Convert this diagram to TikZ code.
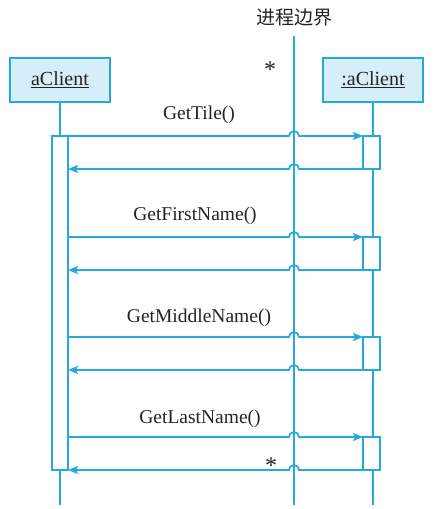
\documentclass[tikz,border=0pt]{standalone}
\usepackage{fontspec}
\setmainfont{Liberation Serif}
\newfontfamily\cjk{Noto Sans CJK SC}
\usetikzlibrary{arrows.meta}
\definecolor{lc}{RGB}{38,168,216}
\definecolor{bf}{RGB}{214,238,249}
\definecolor{tx}{RGB}{35,35,35}
\begin{document}
\begin{tikzpicture}[x=1pt,y=-1pt,
  lw/.style={draw=lc,line width=1.7pt},
  objbox/.style={lw,fill=bf,minimum width=100pt,minimum height=44pt,inner sep=0pt,font=\fontsize{20}{22}\selectfont,text=tx},
  lbl/.style={font=\fontsize{19.5}{22}\selectfont,text=tx,inner sep=0pt},
  act/.style={lw,fill=white},
  msg/.style={lw,-{Stealth[length=10pt,width=8pt,inset=2pt]}}]
\useasboundingbox (0,0) rectangle (432,509);
% boxes
\node[objbox] (A) at (60,80) {\underline{aClient}};
\node[objbox] (B) at (373,80) {\underline{:aClient}};
% boundary
\node[lbl,font=\cjk\fontsize{19}{22}\selectfont] (T) at (294,17) {进程边界};
\coordinate (btop) at (294,36);
\coordinate (bbot) at (294,505);
% lifelines
\coordinate (Aend) at (60,505);
\coordinate (Bend) at (373,505);
\draw[lw] (A.south) -- (Aend);
\draw[lw] (B.south) -- (Bend);
% left activation
\coordinate (la1) at (52,136);
\coordinate (la2) at (68,470);
\draw[act] (la1) rectangle (la2);
% right activations
\foreach \y [count=\i] in {136,237,337,437}{
  \coordinate (ra\i) at (363,\y);
  \coordinate (rb\i) at (380,\y+33);
  \draw[act] (ra\i) rectangle (rb\i);
  \coordinate (cs\i) at (68,\y);
  \coordinate (rs\i) at (363,\y+33);
  \coordinate (re\i) at (68,\y+33);
  \draw[msg] (cs\i) -- (289,\y) arc[start angle=180,end angle=0,radius=5pt] -- (ra\i);
  \draw[msg] (rs\i) -- (299,\y+33) arc[start angle=0,end angle=180,radius=5pt] -- (re\i);
}
\draw[lw] (btop) -- (bbot);
% labels
\node[lbl] (m1) at (199,115) {GetTile()};
\node[lbl] (m2) at (195,216) {GetFirstName()};
\node[lbl] (m3) at (199,318) {GetMiddleName()};
\node[lbl] (m4) at (200,419) {GetLastName()};
\node[lbl,font=\fontsize{24}{24}\selectfont] (s1) at (270,70) {*};
\node[lbl,font=\fontsize{24}{24}\selectfont] (s2) at (271,466) {*};
\end{tikzpicture}
\end{document}
